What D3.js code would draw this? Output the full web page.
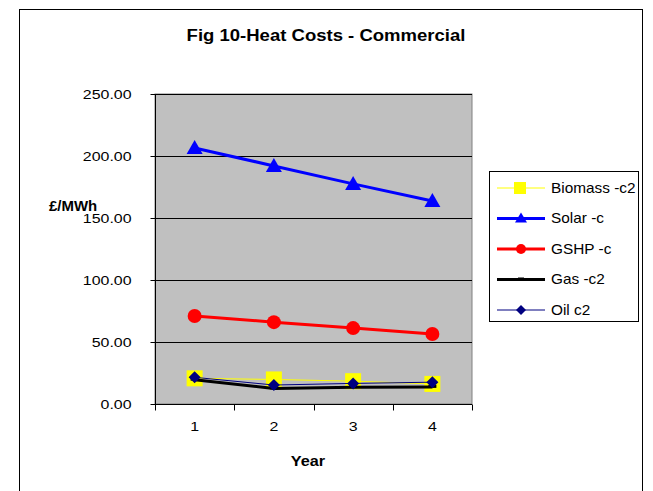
<!DOCTYPE html>
<html><head><meta charset="utf-8">
<script src="https://cdn.jsdelivr.net/npm/d3@7"></script>
<style>body{margin:0;background:#fff}svg{display:block;font-family:"Liberation Sans",Arial,sans-serif}</style>
</head><body>
<script>
const categories = ["1","2","3","4"];
const yTicks = [0,50,100,150,200,250];
const biomass = [20.7, 19.8, 18.4, 16.2];
const solar = [206.5, 192.0, 177.5, 163.7];
const gshp = [71.0, 66.0, 61.2, 56.4];
const gas = [19.6, 12.6, 13.6, 13.8];
const oil = [21.5, 15.3, 16.6, 17.6];
const seriesNames = ["Biomass -c2","Solar -c","GSHP -c","Gas -c2","Oil c2"];

const series = [
  {name:seriesNames[0], values:biomass, color:"#ffff00", width:1, marker:"square", mcolor:"#ffff00"},
  {name:seriesNames[1], values:solar, color:"#0000ff", width:3, marker:"triangle", mcolor:"#0000ff"},
  {name:seriesNames[2], values:gshp, color:"#ff0000", width:3, marker:"circle", mcolor:"#ff0000"},
  {name:seriesNames[3], values:gas, color:"#000000", width:3, marker:"dash", mcolor:"#000000"},
  {name:seriesNames[4], values:oil, color:"#000080", width:1, marker:"diamond", mcolor:"#000080"}
];

function stretch(sel, sx){
  sel.each(function(){
    const t=d3.select(this);
    const x=+(t.attr("x")||0);
    t.attr("transform",`translate(${x},0) scale(${sx},1) translate(${-x},0)`);
  });
}

const W=653,H=491;
const svg=d3.select("body").append("svg").attr("width",W).attr("height",H);
svg.append("rect").attr("x",19.5).attr("y",9.5).attr("width",623).attr("height",490).attr("fill","#fff").attr("stroke","#000");

const L=155,R=472,T=94,B=404;
const x=d3.scaleBand().domain(categories).range([L,R]);
const y=d3.scaleLinear().domain([0,250]).range([B,T]);

svg.append("rect").attr("x",L).attr("y",T).attr("width",R-L).attr("height",B-T).attr("fill","#c0c0c0").attr("stroke","#808080");
svg.append("g").selectAll("line").data(yTicks.filter(d=>d>0)).join("line")
  .attr("x1",L).attr("x2",R).attr("y1",d=>y(d)+0.5).attr("y2",d=>y(d)+0.5).attr("stroke","#000");

const ya=svg.append("g").attr("transform",`translate(${L+0.5},0)`)
  .call(d3.axisLeft(y).tickValues(yTicks).tickFormat(d3.format(".2f")).tickSize(5).tickPadding(19));
ya.select(".domain").attr("stroke","#000").attr("d",`M0,${T}V${B}`);
ya.selectAll("text").attr("font-size",13.5).attr("fill","#000").style("font-family","Liberation Sans, Arial, sans-serif").call(stretch,1.18);

const xa=svg.append("g").attr("transform",`translate(0,${B+0.5})`)
  .call(d3.axisBottom(x).tickSize(0).tickPadding(17));
xa.select(".domain").attr("stroke","#000").attr("d",`M${L},0H${R}`);
xa.selectAll("text").attr("font-size",13.5).attr("fill","#000").style("font-family","Liberation Sans, Arial, sans-serif").call(stretch,1.18);
xa.append("g").selectAll("line").data(categories.concat(["end"])).join("line")
  .attr("x1",(d,i)=>Math.round(L+i*x.step())+0.5).attr("x2",(d,i)=>Math.round(L+i*x.step())+0.5)
  .attr("y1",0).attr("y2",6).attr("stroke","#000");

function marker(g,type,color,cx,cy){
  if(type==="square") g.append("rect").attr("x",cx-8).attr("y",cy-8).attr("width",16).attr("height",16).attr("fill",color);
  else if(type==="triangle") g.append("path").attr("d",`M${cx},${cy-8}L${cx+8},${cy+6}L${cx-8},${cy+6}Z`).attr("fill",color);
  else if(type==="circle") g.append("circle").attr("cx",cx).attr("cy",cy).attr("r",7).attr("fill",color);
  else if(type==="diamond") g.append("path").attr("d",`M${cx},${cy-6}L${cx+6},${cy}L${cx},${cy+6}L${cx-6},${cy}Z`).attr("fill",color);
  else if(type==="dash") g.append("rect").attr("x",cx-4).attr("y",cy-2).attr("width",8).attr("height",3).attr("fill",color);
}

const line=d3.line().x((d,i)=>x(categories[i])+x.bandwidth()/2).y(d=>y(d));
series.forEach(s=>{
  const g=svg.append("g");
  g.append("path").attr("d",line(s.values)).attr("fill","none").attr("stroke",s.color).attr("stroke-width",s.width);
  s.values.forEach((v,i)=>marker(g,s.marker,s.mcolor,x(categories[i])+x.bandwidth()/2,y(v)));
});

svg.append("text").attr("x",326).attr("y",41).attr("text-anchor","middle").attr("font-size",17).attr("font-weight","bold").text("Fig 10-Heat Costs - Commercial").call(stretch,1.09);
svg.append("text").attr("x",49).attr("y",211).attr("font-size",14).attr("font-weight","bold").text("£/MWh").call(stretch,1.07);
svg.append("text").attr("x",308).attr("y",466).attr("text-anchor","middle").attr("font-size",14.5).attr("font-weight","bold").text("Year").call(stretch,1.12);

const lg=svg.append("g");
lg.append("rect").attr("x",489.5).attr("y",171.5).attr("width",149).attr("height",150).attr("fill","#fff").attr("stroke","#000");
series.forEach((s,i)=>{
  const cy=188+i*30.5;
  lg.append("line").attr("x1",497).attr("x2",545).attr("y1",cy).attr("y2",cy).attr("stroke",s.color).attr("stroke-width",s.width);
  const mk=lg.append("g");
  if(s.marker==="square") mk.append("rect").attr("x",514).attr("y",cy-6).attr("width",12).attr("height",12).attr("fill",s.mcolor);
  else if(s.marker==="triangle") mk.append("path").attr("d",`M521,${cy-6}L527,${cy+4}L515,${cy+4}Z`).attr("fill",s.mcolor);
  else if(s.marker==="circle") mk.append("circle").attr("cx",521).attr("cy",cy).attr("r",5).attr("fill",s.mcolor);
  else if(s.marker==="diamond") mk.append("path").attr("d",`M521,${cy-5}L526,${cy}L521,${cy+5}L516,${cy}Z`).attr("fill",s.mcolor);
  else if(s.marker==="dash") mk.append("rect").attr("x",518).attr("y",cy-2).attr("width",6).attr("height",2).attr("fill",s.mcolor);
  lg.append("text").attr("x",551).attr("y",cy+5).attr("font-size",14.5).text(s.name).call(stretch,1.06);
});
</script>
</body></html>
